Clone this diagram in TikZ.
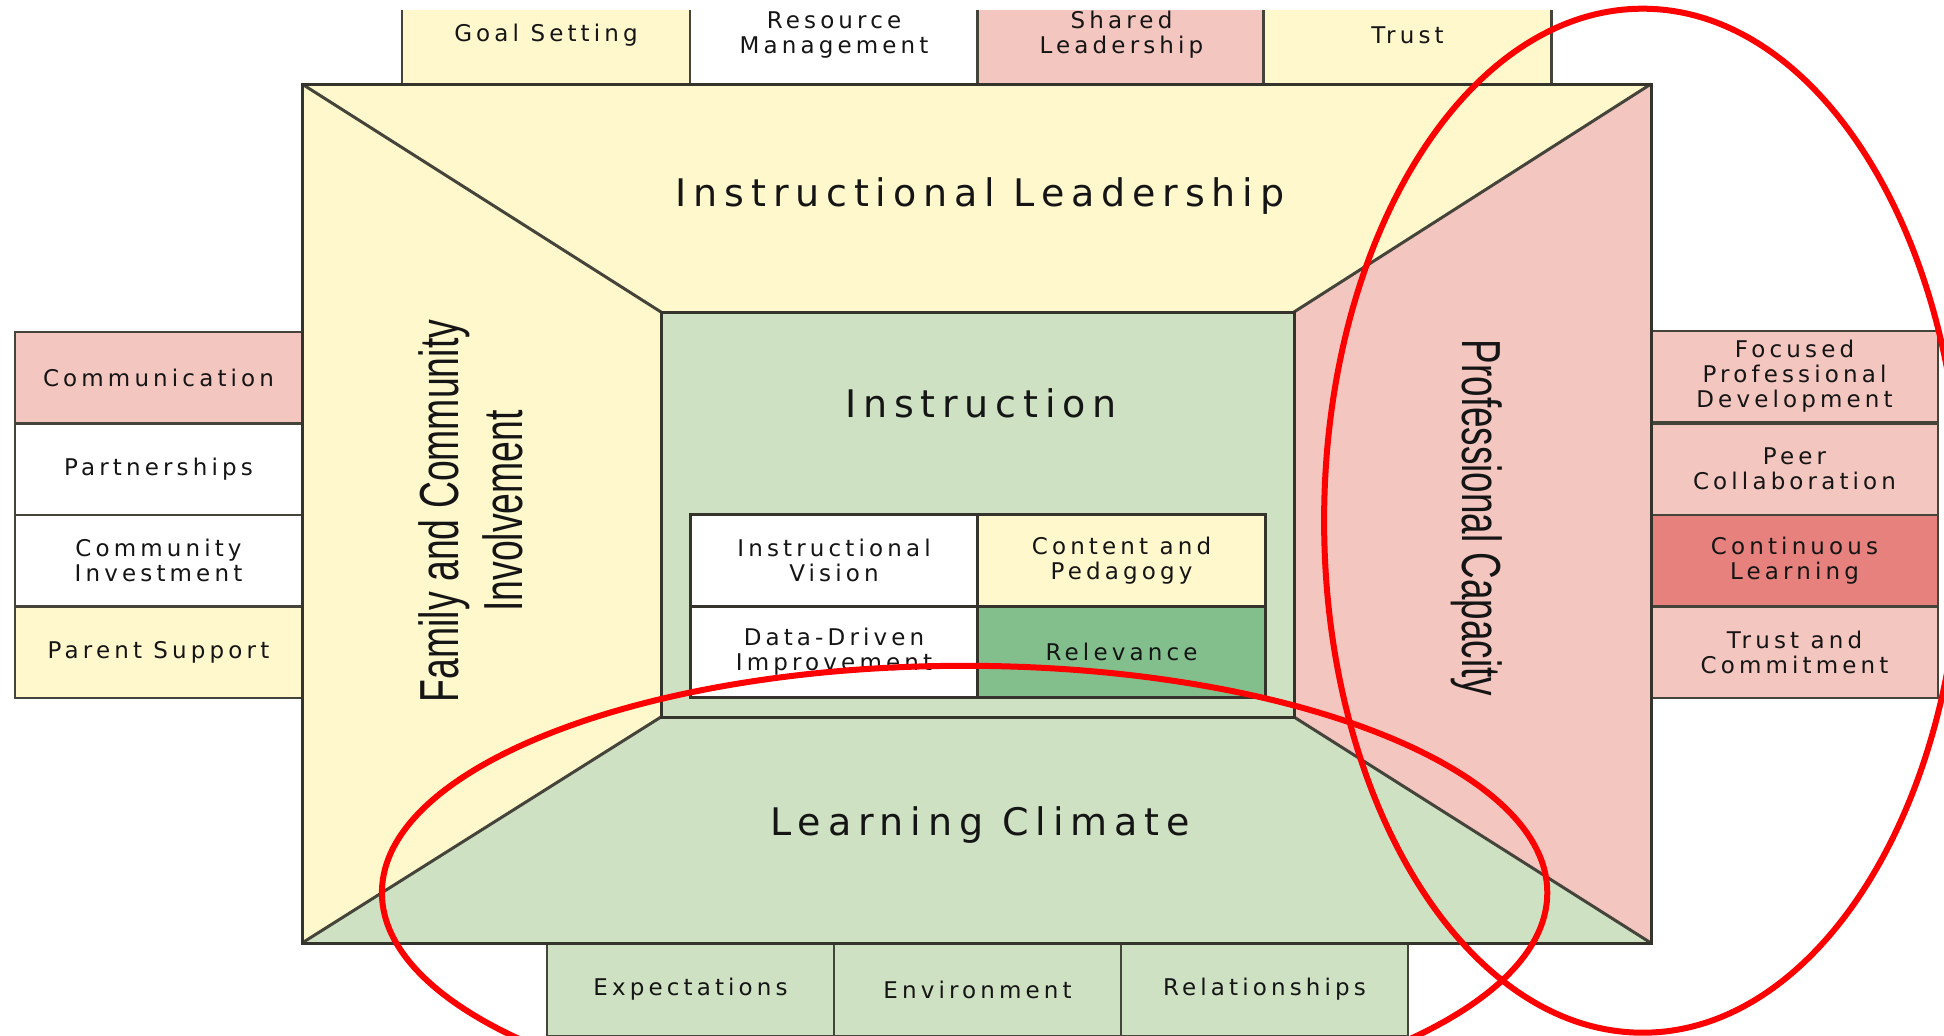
\documentclass[tikz,border=0pt]{standalone}
\usepackage{fontspec}
\usepackage{graphicx}
\setmainfont{DejaVu Sans}
\newfontfamily\trackfont[LetterSpace=18]{DejaVu Sans}
\newfontfamily\narrowfont{Liberation Sans}

\definecolor{paleyellow}{HTML}{FFF8CD}
\definecolor{palepink}{HTML}{F4C6C0}
\definecolor{palegreen}{HTML}{CEE2C3}
\definecolor{midgreen}{HTML}{83BF8D}
\definecolor{rosered}{HTML}{E6817E}
\definecolor{edge}{HTML}{45443A}
\definecolor{darkedge}{HTML}{35342C}
\definecolor{ink}{HTML}{151515}
\definecolor{markred}{HTML}{FF0000}

\tikzset{
  cell/.style={draw=edge, line width=2.5pt, minimum width=288pt, minimum height=91.5pt,
    inner sep=0pt, align=center, text=ink, font=\trackfont\fontsize{23}{25}\selectfont},
  topcell/.style={cell, minimum height=98pt},
  sidecell/.style={cell, minimum width=287pt},
  gridcell/.style={cell, draw=darkedge, line width=3pt},
  heading/.style={anchor=base, inner sep=0pt, text=ink, font=\trackfont\fontsize{38}{44}\selectfont},
  sideheading/.style={inner sep=0pt, text=ink, font=\narrowfont\fontsize{55}{64}\selectfont},
  panel/.style={draw=darkedge, line width=3pt, line join=miter},
  seam/.style={draw=edge, line width=3pt},
  marker/.style={draw=markred, line width=6pt},
}

\begin{document}
\begin{tikzpicture}[x=1pt, y=-1pt]
\useasboundingbox (0,0) rectangle (1944,1036);
\fill[white] (0,0) rectangle (1944,1036);

% corners of the outer square and the inner rectangle
\coordinate (OTL) at (302,84);
\coordinate (OTR) at (1651,84);
\coordinate (OBR) at (1651,943);
\coordinate (OBL) at (302,943);
\coordinate (ITL) at (661,312);
\coordinate (ITR) at (1294,312);
\coordinate (IBR) at (1294,717);
\coordinate (IBL) at (661,717);

% leadership tabs along the top edge
\begin{scope}
\clip (0,10.5) rectangle (1944,84);
\node[topcell, fill=paleyellow] (goal)   at (546,35)    {Goal Setting};
\node[topcell, fill=white]      (resrc)  at (834,35)    {Resource\\Management};
\node[topcell, fill=palepink]   (shared) at (1121.5,35) {Shared\\Leadership};
\node[topcell, fill=paleyellow] (trust)  at (1407.5,35) {Trust};
\end{scope}

% family and community tabs on the left
\node[sidecell, fill=palepink]   (comm)   at (158.5,377.5) {Communication};
\node[sidecell, fill=white]      (part)   at (158.5,469)   {Partnerships};
\node[sidecell, fill=white]      (invest) at (158.5,560.5) {Community\\Investment};
\node[sidecell, fill=paleyellow] (parent) at (158.5,652)   {Parent Support};

% professional capacity tabs on the right
\node[sidecell, fill=palepink] (fpd)    at (1794.5,376.5) {Focused\\Professional\\Development};
\node[sidecell, fill=palepink] (peer)   at (1794.5,469)   {Peer\\Collaboration};
\node[sidecell, fill=rosered]  (contl)  at (1794.5,560.5) {Continuous\\Learning};
\node[sidecell, fill=palepink] (tcomm)  at (1794.5,652)   {Trust and\\Commitment};

% learning climate tabs along the bottom
\node[cell, fill=palegreen, minimum width=287pt, minimum height=93pt] (expect) at (690.5,989.5)  {Expectations};
\node[cell, fill=palegreen, minimum width=287pt, minimum height=93pt] (envir)  at (977.5,989.5)  {Environment};
\node[cell, fill=palegreen, minimum width=287pt, minimum height=93pt] (relat)  at (1264.5,989.5) {Relationships};

% the four trapezoids of the frame
\fill[paleyellow] (OTL) -- (OTR) -- (ITR) -- (ITL) -- cycle;
\fill[paleyellow] (OTL) -- (ITL) -- (IBL) -- (OBL) -- cycle;
\fill[palepink]   (OTR) -- (OBR) -- (IBR) -- (ITR) -- cycle;
\fill[palegreen]  (OBL) -- (IBL) -- (IBR) -- (OBR) -- cycle;
\fill[palegreen]  (ITL) rectangle (IBR);

\draw[seam] (OTL) -- (ITL);
\draw[seam] (OTR) -- (ITR);
\draw[seam] (OBL) -- (IBL);
\draw[seam] (OBR) -- (IBR);
\draw[panel] (ITL) rectangle (IBR);
\draw[panel] (OTL) rectangle (OBR);

% instruction grid
\node[gridcell, fill=white]      (vision)  at (834,560.25)    {Instructional\\Vision};
\node[gridcell, fill=paleyellow] (content) at (1121.5,560.25) {Content and\\Pedagogy};
\node[gridcell, fill=white]      (data)    at (834,651.75)    {Data-Driven\\Improvement};
\node[gridcell, fill=midgreen]   (relev)   at (1121.5,651.75) {Relevance};

% headings
\node[heading] (ilead) at (980,206) {Instructional Leadership};
\node[heading] (instr) at (981,417) {Instruction};
\node[heading] (lclim) at (980,835) {Learning Climate};
\node[sideheading, rotate=90] (family) at (478,511)
  {\scalebox{0.68}[1]{\begin{tabular}{@{}c@{}}Family and Community\\Involvement\end{tabular}}};
\node[sideheading, rotate=-90] (profcap) at (1477,518)
  {\scalebox{0.67}[1]{Professional Capacity}};

% red highlight rings
\draw[marker] (964.6,892.7) ellipse [x radius=582.7pt, y radius=226.9pt];
\draw[marker] (1642.7,520.7) ellipse [x radius=318.6pt, y radius=512pt];
\end{tikzpicture}
\end{document}
